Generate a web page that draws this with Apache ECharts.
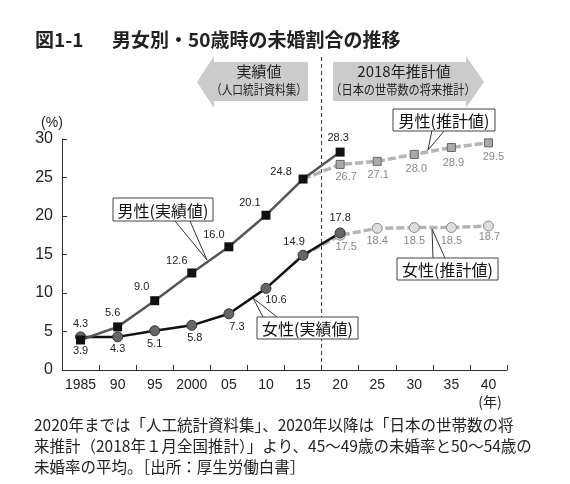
<!DOCTYPE html>
<html><head><meta charset="utf-8">
<script src="https://cdn.jsdelivr.net/npm/echarts@6/dist/echarts.min.js"></script>
<style>html,body{margin:0;padding:0;background:#fff}#c{width:570px;height:484px}</style>
</head><body><div id="c"></div>
<script>
// ---- data ----
const years = ['1985','90','95','2000','05','10','15','20','25','30','35','40'];
const maleActual   = [3.9, 5.6, 9.0, 12.6, 16.0, 20.1, 24.8, 28.3, null, null, null, null];
const femaleActual = [4.3, 4.3, 5.1, 5.8, 7.3, 10.6, 14.9, 17.8, null, null, null, null];
const maleProj     = [null, null, null, null, null, null, 24.8, 26.7, 27.1, 28.0, 28.9, 29.5];
const femaleProj   = [null, null, null, null, null, null, 14.9, 17.5, 18.4, 18.5, 18.5, 18.7];
const yMin = 0, yMax = 30, yStep = 5;

// label offsets (style, not data)
const maleActualOff   = [[0,11],[-5,-14],[-13,-14],[-15,-12],[-15,-12],[-16,-12],[-22,-7],[-2,-14]];
const femaleActualOff = [[0,-13],[0,12],[0,13],[3,13],[8,13],[10,12],[-9,-13],[0,-15]];
const maleProjOff     = [null,null,null,null,null,null,[9,11],[6,13],[1,14],[2,15],[2,15],[5,14]];
const femaleProjOff   = [null,null,null,null,null,null,[5,12],[6,12],[0,13],[0,13],[0,13],[1,11]];

const NUM = 'Liberation Sans, Arial, sans-serif';
const JP = '"Noto Sans CJK JP", sans-serif';

function build(vals, offs, hideIdx) {
  return vals.map((v, i) => {
    if (v === null) return null;
    const o = { value: v, label: { offset: offs[i] || [0, 0] } };
    if (hideIdx === i) { o.symbol = 'none'; }
    return o;
  });
}
const fmt = p => (typeof p.value === 'number' ? p.value.toFixed(1) : '');

const chart = echarts.init(document.getElementById('c'), null, { renderer: 'canvas' });
const option = {
  animation: false,
  backgroundColor: '#fff',
  grid: { left: 62, right: 63, top: 139, bottom: 114, outerBoundsMode: 'none', containLabel: false },
  xAxis: {
    type: 'category', data: years, boundaryGap: true,
    axisLine: { lineStyle: { color: '#333', width: 1 } },
    axisTick: { show: true, inside: true, length: 5, lineStyle: { color: '#333' } },
    axisLabel: { color: '#222', fontSize: 14, fontFamily: NUM, margin: 8, interval: 0 },
    splitLine: { show: false }
  },
  yAxis: {
    type: 'value', min: yMin, max: yMax, interval: yStep,
    axisLine: { show: true, lineStyle: { color: '#333', width: 1 } },
    axisTick: { show: true, inside: true, length: 5, lineStyle: { color: '#333' } },
    axisLabel: { color: '#222', fontSize: 16, fontFamily: NUM, margin: 9 },
    splitLine: { show: false }
  },
  series: [
    {
      name: '男性(推計値)', type: 'line', data: build(maleProj, maleProjOff, 6),
      symbol: 'rect', symbolSize: 8,
      lineStyle: { color: '#b4b4b4', width: 3.5, type: [8, 3] },
      itemStyle: { color: '#aaa', borderColor: '#666', borderWidth: 1 },
      label: { show: true, position: 'inside', formatter: fmt, color: '#888', fontSize: 11, fontFamily: NUM }
    },
    {
      name: '女性(推計値)', type: 'line', data: build(femaleProj, femaleProjOff, 6),
      symbol: 'circle', symbolSize: 10,
      lineStyle: { color: '#b4b4b4', width: 3.5, type: [8, 3] },
      itemStyle: { color: '#ddd', borderColor: '#888', borderWidth: 1 },
      label: { show: true, position: 'inside', formatter: fmt, color: '#888', fontSize: 11, fontFamily: NUM }
    },
    {
      name: '女性(実績値)', type: 'line', data: build(femaleActual, femaleActualOff),
      symbol: 'circle', symbolSize: 10,
      lineStyle: { color: '#111', width: 2.5 },
      itemStyle: { color: '#666', borderColor: '#333', borderWidth: 1 },
      label: { show: true, position: 'inside', formatter: fmt, color: '#222', fontSize: 11, fontFamily: NUM }
    },
    {
      name: '男性(実績値)', type: 'line', data: build(maleActual, maleActualOff),
      symbol: 'rect', symbolSize: 9,
      lineStyle: { color: '#555', width: 2.5 },
      itemStyle: { color: '#111', borderColor: '#111', borderWidth: 0 },
      label: { show: true, position: 'inside', formatter: fmt, color: '#222', fontSize: 11, fontFamily: NUM }
    }
  ]
};
chart.setOption(option);

// divider between 2015 and 2020 computed from the axis
const x6 = chart.convertToPixel({ xAxisIndex: 0 }, 6);
const x7 = chart.convertToPixel({ xAxisIndex: 0 }, 7);
const xDiv = (x6 + x7) / 2;
const y0 = chart.convertToPixel({ yAxisIndex: 0 }, 0);

function box(x, y, w, h, text) {
  return [
    { type: 'rect', shape: { x: x, y: y, width: w, height: h }, style: { fill: '#fff', stroke: '#444', lineWidth: 1 }, z: 20 },
    { type: 'text', x: x + w / 2, y: y + h / 2 + 1, z: 21,
      style: { text: text, font: '16px ' + JP, fill: '#111', textAlign: 'center', textVerticalAlign: 'middle' } }
  ];
}
function leader(pts) {
  return { type: 'polyline', shape: { points: pts }, style: { stroke: '#333', lineWidth: 1, fill: null }, z: 19 };
}

const graphics = [
  // title
  { type: 'text', x: 35, y: 40, style: { text: '図1-1', font: 'bold 19px ' + JP, fill: '#222', textVerticalAlign: 'middle' } },
  { type: 'text', x: 112, y: 40, style: { text: '男女別・50歳時の未婚割合の推移', font: 'bold 19px ' + JP, fill: '#222', textVerticalAlign: 'middle' } },
  // arrows
  { type: 'polygon', shape: { points: [[308,62],[214,62],[214,56],[197,82],[214,108],[214,101],[308,101]] }, style: { fill: '#cbcbcb' } },
  { type: 'polygon', shape: { points: [[333,62],[466,62],[466,56],[484,82],[466,108],[466,101],[333,101]] }, style: { fill: '#cbcbcb' } },
  { type: 'text', x: 259, y: 71, style: { text: '実績値', font: '15px ' + JP, fill: '#222', textAlign: 'center', textVerticalAlign: 'middle' } },
  { type: 'text', x: 259, y: 89, scaleX: 0.82, style: { text: '（人口統計資料集）', font: '13px ' + JP, fill: '#222', textAlign: 'center', textVerticalAlign: 'middle' } },
  { type: 'text', x: 404, y: 71, style: { text: '2018年推計値', font: '15px ' + JP, fill: '#222', textAlign: 'center', textVerticalAlign: 'middle' } },
  { type: 'text', x: 403, y: 89, scaleX: 0.86, style: { text: '（日本の世帯数の将来推計）', font: '13px ' + JP, fill: '#222', textAlign: 'center', textVerticalAlign: 'middle' } },
  // divider
  { type: 'line', shape: { x1: xDiv, y1: 57, x2: xDiv, y2: y0 }, style: { stroke: '#333', lineWidth: 1, lineDash: [4, 3] }, z: 1 },
  // axis units
  { type: 'text', x: 52, y: 123, style: { text: '(%)', font: '14px ' + NUM, fill: '#222', textAlign: 'center', textVerticalAlign: 'middle' } },
  { type: 'text', x: 490, y: 402, style: { text: '(年)', font: '14px ' + JP, fill: '#222', textAlign: 'center', textVerticalAlign: 'middle' } },
  // annotation leaders
  leader([[175,221],[207,260],[190,221]]),
  leader([[263,317],[253,298],[277,317]]),
  leader([[432,130],[428,150],[445,130]]),
  leader([[433,258],[432,229],[445,258]]),
  ...box(113, 198, 100, 23, '男性(実績値)'),
  ...box(257, 317, 101, 22, '女性(実績値)'),
  ...box(393, 109, 102, 22, '男性(推計値)'),
  ...box(397, 258, 101, 22, '女性(推計値)'),
  // footer
  { type: 'text', x: 34, y: 425, style: { text: '2020年までは「人工統計資料集」、2020年以降は「日本の世帯数の将', font: '15.5px ' + JP, fill: '#222', textVerticalAlign: 'middle' } },
  { type: 'text', x: 34, y: 446, style: { text: '来推計（2018年１月全国推計）」より、45～49歳の未婚率と50～54歳の', font: '15.5px ' + JP, fill: '#222', textVerticalAlign: 'middle' } },
  { type: 'text', x: 34, y: 467, style: { text: '未婚率の平均。［出所：厚生労働白書］', font: '15.5px ' + JP, fill: '#222', textVerticalAlign: 'middle' } }
];
chart.setOption({ graphic: graphics });
</script>
</body></html>
